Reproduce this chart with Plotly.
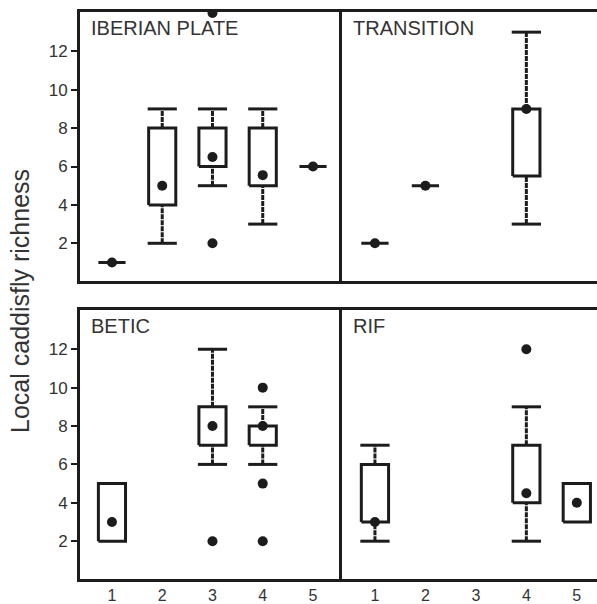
import plotly.graph_objects as go

# ---------------- data ----------------
panel_titles = ["IBERIAN PLATE", "TRANSITION", "BETIC", "RIF"]
x_tick_labels = ["1", "2", "3", "4", "5"]
y_tick_values = [2, 4, 6, 8, 10, 12]

iberian_groups = [1, 2, 3, 4, 5]
iberian_q1 = [1, 4, 6, 5, 6]
iberian_q3 = [1, 8, 8, 8, 6]
iberian_lo = [1, 2, 5, 3, 6]
iberian_hi = [1, 9, 9, 9, 6]
iberian_mid = [1, 5, 6.5, 5.55, 6]
iberian_out_x = [3, 3]
iberian_out_y = [2, 14]

transition_groups = [1, 2, 4]
transition_q1 = [2, 5, 5.5]
transition_q3 = [2, 5, 9]
transition_lo = [2, 5, 3]
transition_hi = [2, 5, 13]
transition_mid = [2, 5, 9]
transition_out_x = []
transition_out_y = []

betic_groups = [1, 3, 4]
betic_q1 = [2, 7, 7]
betic_q3 = [5, 9, 8]
betic_lo = [2, 6, 6]
betic_hi = [5, 12, 9]
betic_mid = [3, 8, 8]
betic_out_x = [3, 4, 4, 4]
betic_out_y = [2, 10, 5, 2]

rif_groups = [1, 4, 5]
rif_q1 = [3, 4, 3]
rif_q3 = [6, 7, 5]
rif_lo = [2, 2, 3]
rif_hi = [7, 9, 5]
rif_mid = [3, 4.5, 4]
rif_out_x = [4]
rif_out_y = [12]

panels = [
    (iberian_groups, iberian_q1, iberian_q3, iberian_lo, iberian_hi, iberian_mid, iberian_out_x, iberian_out_y),
    (transition_groups, transition_q1, transition_q3, transition_lo, transition_hi, transition_mid, transition_out_x, transition_out_y),
    (betic_groups, betic_q1, betic_q3, betic_lo, betic_hi, betic_mid, betic_out_x, betic_out_y),
    (rif_groups, rif_q1, rif_q3, rif_lo, rif_hi, rif_mid, rif_out_x, rif_out_y),
]

# ---------------- styles ----------------
INK = "#1c1c1c"
TXT = "#333333"
FONT = "Arial, Liberation Sans, sans-serif"
BOX_W = 0.54
CAP_W = 0.58
LW = 3

W, H = 597, 604
ML, MR, MT, MB = 80, 0, 12, 21
pw = W - ML - MR
ph = H - MT - MB
split_x = (342 - ML) / pw
top_lo = (583 - 283) / ph
bot_hi = (583 - 312) / ph

fig = go.Figure()

axes = [("x", "y"), ("x2", "y2"), ("x3", "y3"), ("x4", "y4")]

for (xa, ya), (g, q1, q3, lo, hi, mid, ox, oy) in zip(axes, panels):
    bx, by, wx, wy, cx, cy = [], [], [], [], [], []
    for gi, a, b, l, h in zip(g, q1, q3, lo, hi):
        x0, x1 = gi - BOX_W / 2, gi + BOX_W / 2
        bx += [x0, x1, x1, x0, x0, None]
        by += [a, a, b, b, a, None]
        if h > b:
            wx += [gi, gi, None]
            wy += [b, h, None]
            cx += [gi - CAP_W / 2, gi + CAP_W / 2, None]
            cy += [h, h, None]
        if l < a:
            wx += [gi, gi, None]
            wy += [l, a, None]
            cx += [gi - CAP_W / 2, gi + CAP_W / 2, None]
            cy += [l, l, None]
    fig.add_trace(go.Scatter(x=wx, y=wy, mode="lines", xaxis=xa, yaxis=ya,
                             line=dict(color=INK, width=LW, dash="5px,1px"),
                             hoverinfo="skip", showlegend=False))
    fig.add_trace(go.Scatter(x=cx, y=cy, mode="lines", xaxis=xa, yaxis=ya,
                             line=dict(color=INK, width=LW),
                             hoverinfo="skip", showlegend=False))
    fig.add_trace(go.Scatter(x=bx, y=by, mode="lines", xaxis=xa, yaxis=ya,
                             line=dict(color=INK, width=LW),
                             hoverinfo="skip", showlegend=False))
    fig.add_trace(go.Scatter(x=g, y=mid, mode="markers", xaxis=xa, yaxis=ya,
                             marker=dict(color=INK, size=10),
                             showlegend=False))
    if ox:
        fig.add_trace(go.Scatter(x=ox, y=oy, mode="markers", xaxis=xa, yaxis=ya,
                                 marker=dict(color=INK, size=10),
                                 showlegend=False))

x_left_range = [0.364, 5.577]
x_right_range = [0.347, 5.40]
y_range = [0.03, 14.05]

common_x = dict(showline=True, linecolor=INK, linewidth=LW, mirror=True,
                showgrid=False, zeroline=False, ticks="",
                tickvals=[1, 2, 3, 4, 5], ticktext=x_tick_labels,
                tickfont=dict(family=FONT, size=16, color=TXT))
common_y = dict(showline=True, linecolor=INK, linewidth=LW, mirror=False,
                showgrid=False, zeroline=False, range=y_range,
                tickvals=y_tick_values, ticktext=[str(v) for v in y_tick_values],
                tickfont=dict(family=FONT, size=17, color=TXT))

fig.update_layout(
    width=W, height=H,
    margin=dict(l=ML, r=MR, t=MT, b=MB),
    paper_bgcolor="white", plot_bgcolor="white",
    showlegend=False,
    xaxis=dict(common_x, domain=[0, split_x], range=x_left_range, anchor="y", showticklabels=False),
    yaxis=dict(common_y, domain=[top_lo, 1], anchor="x", ticks="outside", ticklen=6, tickwidth=2, tickcolor=INK),
    xaxis2=dict(common_x, domain=[split_x, 1], range=x_right_range, anchor="y2", showticklabels=False),
    yaxis2=dict(common_y, domain=[top_lo, 1], anchor="x2", ticks="", showticklabels=False),
    xaxis3=dict(common_x, domain=[0, split_x], range=x_left_range, anchor="y3", showticklabels=True),
    yaxis3=dict(common_y, domain=[0, bot_hi], anchor="x3", ticks="outside", ticklen=6, tickwidth=2, tickcolor=INK),
    xaxis4=dict(common_x, domain=[split_x, 1], range=x_right_range, anchor="y4", showticklabels=True),
    yaxis4=dict(common_y, domain=[0, bot_hi], anchor="x4", ticks="", showticklabels=False),
)

title_pos = [("x domain", "y domain"), ("x2 domain", "y2 domain"),
             ("x3 domain", "y3 domain"), ("x4 domain", "y4 domain")]
for (xr, yr), t in zip(title_pos, panel_titles):
    fig.add_annotation(text=t, xref=xr, yref=yr, x=0.035, y=0.99,
                       xanchor="left", yanchor="top", showarrow=False,
                       font=dict(family=FONT, size=20, color=TXT))

fig.add_annotation(text="Local caddisfly richness", xref="paper", yref="paper",
                   x=(20 - ML) / pw, y=(583 - 303) / ph, textangle=-90,
                   xanchor="center", yanchor="middle", showarrow=False,
                   font=dict(family=FONT, size=25, color=TXT))

fig.write_html("out.html", config={"displayModeBar": False},
               post_script="document.body.style.margin='0';document.body.style.overflow='hidden';")
